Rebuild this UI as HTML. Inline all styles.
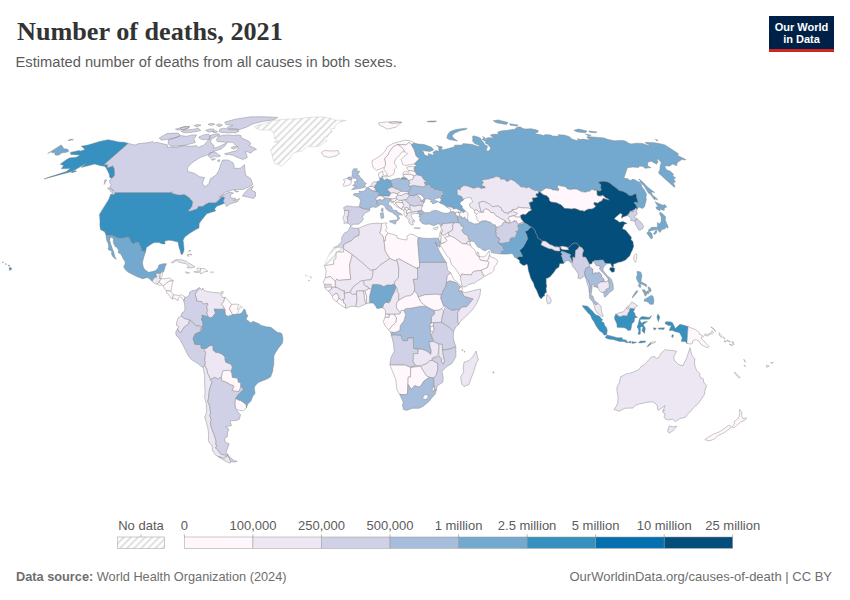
<!DOCTYPE html>
<html><head><meta charset="utf-8">
<style>
html,body{margin:0;padding:0;background:#fff;}
body{width:850px;height:600px;position:relative;overflow:hidden;font-family:"Liberation Sans",sans-serif;}
.title{position:absolute;left:17px;top:17.3px;font-family:"Liberation Serif",serif;font-weight:bold;font-size:26.2px;color:#333;letter-spacing:0px;white-space:nowrap;}
.sub{position:absolute;left:15.5px;top:53.5px;font-size:14.7px;color:#5b5b5b;white-space:nowrap;}
.logo{position:absolute;left:769px;top:16px;width:65px;height:33px;background:#002147;border-bottom:3px solid #ce261e;color:#fff;font-weight:bold;font-size:11px;line-height:12px;text-align:center;padding-top:4.5px;box-sizing:content-box;height:28.5px;}
.src{position:absolute;left:16px;top:569px;font-size:12.75px;color:#6e6e6e;white-space:nowrap;}
.url{position:absolute;right:18px;top:568.5px;font-size:13px;color:#6e6e6e;white-space:nowrap;}
svg{position:absolute;left:0;top:0;}
svg text{font-family:"Liberation Sans",sans-serif;font-size:13px;fill:#5b5b5b;}
</style></head><body>
<svg width="850" height="600" viewBox="0 0 850 600">
<defs>
<pattern id="hatch" patternUnits="userSpaceOnUse" width="5" height="5" patternTransform="rotate(-45)">
<rect width="5" height="5" fill="#fff"/><line x1="0" y1="2.5" x2="5" y2="2.5" stroke="#d6d6d6" stroke-width="1.5"/>
</pattern>
</defs>
<g stroke="#858585" stroke-width="0.45" stroke-linejoin="round">
<path fill="#d0d1e6" d="M350.3,226.5 353.1,228 358.3,228.3 359.3,231.2 359.1,235.3 354.7,237.2 352,240.3 343.7,244.7 343.7,247.6 333.6,247.6 337.5,246 341.3,241.9 341.8,240.6 341.5,237.7 344.4,233 348.2,231.2 349.6,227.8Z"/>
<path fill="url(#hatch)" stroke="#c4c4c4" d="M343.7,247.6 343.6,252 336.2,252 336,258.5 333.8,259.8 333.7,264.3 324.4,265.6 325.8,261.7 327.3,258 330.6,252 333.6,247.6Z"/>
<path fill="#fff7fb" d="M324.4,265.6 326.1,270.3 325.4,277.8 330.5,276.5 335.2,281.5 336.8,279.1 338.6,280.4 350.7,279.4 350.5,277 349.5,265 352.3,254.6 343.6,248.6 343.6,252 336.2,252 336,258.5 333.8,259.8 333.7,264.3Z"/>
<path fill="#ece7f2" d="M358.3,228.3 363.1,226.2 369.5,223.9 377.1,223.1 381.6,223.6 381.1,229.6 379.7,233 383.1,236.1 384.1,241.1 385.2,250.7 389.8,258.5 380,265.3 376.2,269.2 372.8,270 370.5,270.3 365.8,265.8 352.3,254.6 343.6,248.6 343.7,244.7 352,240.3 354.7,237.2 359.1,235.3 359.3,231.2Z"/>
<path fill="#fff7fb" d="M381.6,223.6 385,222.9 387,223.1 385.7,224.9 387.2,228 385.1,230.4 386.9,231.7 388.2,233.3 385.7,236.4 385.2,241.1 384.1,241.1 383.1,236.1 379.7,233 381.1,229.6Z"/>
<path fill="#fff7fb" d="M388.2,233.3 392,234 396.9,235.6 397.4,238.2 402.8,239.5 406.8,240 407.2,235.9 410.2,234 413.5,234.8 418.3,237.4 417.8,241.6 419.5,262.4 419.7,267.6 417.4,267.6 417.5,268.9 398.8,258.8 396.8,259.8 395.1,260.9 389.8,258.5 385.2,250.7 384.1,241.1 385.2,241.1 385.7,236.4Z"/>
<path fill="#a6bddb" d="M418.3,237.4 423.7,238.2 429,238.5 434.3,238.2 438.4,238.2 440.4,242.9 439.5,247.3 436.9,245.2 435.3,241.9 437.6,246.8 439.1,250.7 442.9,257.2 446.3,262.4 433.7,262.4 419.5,262.4 417.8,241.6Z"/>
<path fill="#d0d1e6" d="M446.3,262.4 447.7,270.3 450.8,272.9 447.3,275.5 446.5,282.5 445.7,286.7 442.7,291.9 441.4,295 436.5,294.2 425.1,294.7 418.2,297.1 417,293.7 414.4,291.1 414.6,286.7 413,279.4 417.6,278.8 417.5,268.9 417.4,267.6 419.7,267.6 419.5,262.4 433.7,262.4Z"/>
<path fill="#fff7fb" d="M441.4,295 440.7,297.9 443.7,305.9 441.4,308.8 439.1,310.1 434,310.6 426.4,306.7 421,302.3 418.2,297.1 425.1,294.7 436.5,294.2Z"/>
<path fill="#fff7fb" d="M450.8,272.9 453.7,279.4 457.2,282 461.7,286.7 460.2,287.2 456.6,283 452.2,281.5 449.6,280.9 446.5,282.5 447.3,275.5Z"/>
<path fill="#fff7fb" d="M461.7,286.7 462.5,289.3 461.5,291.1 458.9,290.8 458.6,289.5 460.2,287.2Z"/>
<path fill="#a6bddb" d="M446.5,282.5 449.6,280.9 452.2,281.5 456.6,283 460.2,287.2 458.6,289.5 458.9,290.8 461.5,291.1 464.2,296.3 473.2,298.9 466.7,306.7 462.6,307 459.8,309.3 457.5,309.6 455.2,309.9 451.8,310.4 448.1,308.3 445.5,305.9 443.7,305.9 440.7,297.9 441.4,295 442.7,291.9 445.7,286.7Z"/>
<path fill="#ece7f2" d="M461.5,291.1 465.2,292.7 473.1,290.6 480.6,289 480.3,292.7 479.8,296 477,302.8 473.2,308.8 468,314.5 462.7,319 459.9,322.1 459,324.2 457.6,322.1 457.6,312.5 459.6,309.3 462.6,307 466.7,306.7 473.2,298.9 464.2,296.3Z"/>
<path fill="#d0d1e6" d="M459,324.2 455.7,327 453.6,331.7 449.9,327.8 441.5,322.4 441.5,319.8 442.4,315.8 443.7,310.6 445.5,305.9 448.1,308.3 451.8,310.4 455.2,309.9 457.5,309.6 459.6,309.3 457.6,312.5 457.6,322.1Z"/>
<path fill="#ece7f2" d="M441.5,322.4 433.4,322.6 431.3,323.1 431.3,317.1 434.5,313.8 434,310.6 439.1,310.1 441.4,308.8 443.7,310.6 442.4,315.8 441.5,319.8Z"/>
<path fill="#d0d1e6" d="M453.6,331.7 453.3,337.5 453.9,340.6 455.8,346.8 450.2,348.9 444.4,350 442.4,349.7 442.3,344.5 438.6,344 434.8,342.2 433.2,340.1 431.2,335.4 433.1,331.5 434,328.9 433.4,326 433.4,322.6 441.5,322.4 449.9,327.8Z"/>
<path fill="#fff7fb" d="M429.9,323.4 433.4,322.6 433.4,326 429.9,327Z"/>
<path fill="#fff7fb" d="M429.9,327 433.4,326 434,328.9 433.1,331.5 430.6,331.5Z"/>
<path fill="#a6bddb" d="M391.1,335.4 393.2,335.1 401,335.4 401.7,338.8 403.3,340.9 407.7,340.6 407.9,338 413.2,338 413.5,348.4 418.1,349.2 421.3,349.2 424.9,350.2 428.1,352.1 430.8,354.4 431.3,351.5 429,341.9 433.2,341.4 431.2,335.4 430.6,331.5 429.9,327 429.9,323.4 431.3,323.1 431.3,317.1 434.5,313.8 434,310.6 426.4,306.7 421.1,306.2 415.8,307.2 410.3,308.3 405.9,308.5 403.6,310.4 405.7,314.5 403.9,321.1 400.4,325.2 399.7,330.7 398.3,331 395.5,332.3 392.5,332.3 391.4,334.6Z"/>
<path fill="#fff7fb" d="M388.6,329.9 390.7,332.5 392.5,332.3 395.5,332.3 398.3,331 399.7,330.7 400.4,325.2 403.9,321.1 405.7,314.5 403.6,310.4 401.1,310.4 399.9,313.8 396,314 393.7,314 396.5,317.9 395.8,322.4 391.9,326Z"/>
<path fill="#fff7fb" d="M388.6,329.9 385.2,326 383.3,321.6 384.5,318.4 385,317.1 389.1,317.1 389.1,314 393.7,314 396.5,317.9 395.8,322.4 391.9,326Z"/>
<path fill="#fff7fb" d="M385,317.1 385.6,314 389.1,314 389.1,317.1Z"/>
<path fill="#ece7f2" d="M385.6,314 385.2,309.9 382.6,307.8 383.3,304.9 385.6,302 388.4,302.8 390.2,301.3 391.1,298.1 392.7,294.7 394.3,291.9 395.8,287.4 395.3,285.6 397.2,288.2 397.2,291.4 398.9,294 398.7,300.2 396.4,303.6 396.5,308 400.2,312.5 399.9,313.8 396,314 393.7,314 389.1,314Z"/>
<path fill="#74a9cf" d="M369.3,303.1 370.9,303.1 373.2,303.1 375.7,306.2 376.9,308.5 379.2,308.3 382.6,307.8 383.3,304.9 385.6,302 388.4,302.8 390.2,301.3 391.1,298.1 392.7,294.7 394.3,291.9 395.8,287.4 395.3,285.6 393.5,284.1 391.2,285.1 387.5,284.8 383.7,286.4 380.9,285.1 377.2,284.3 372.4,284.6 371.3,289.3 369.5,296Z"/>
<path fill="#ece7f2" d="M372.4,284.6 377.2,284.3 380.9,285.1 383.7,286.4 387.5,284.8 391.2,285.1 393.5,284.1 395.3,285.6 394.1,282.2 398.4,278.1 398.9,267.9 396.8,259.8 395.1,260.9 389.8,258.5 380,265.3 376.2,269.2 372.8,270 372.6,275.7 371,279.6 366,279.9 363.5,280.9 364,284.6 365.3,285.9 368.1,286.9 368.5,288.7 371.3,289.3Z"/>
<path fill="#ece7f2" d="M396.8,259.8 398.8,258.8 417.5,268.9 417.6,278.8 413,279.4 414.6,286.7 414.4,291.1 412.7,294.2 409.7,295.8 405.8,296.3 398.7,300.2 398.9,294 397.2,291.4 397.2,288.2 395.3,285.6 394.1,282.2 398.4,278.1 398.9,267.9Z"/>
<path fill="#fff7fb" d="M396.5,308 396.4,303.6 398.7,300.2 405.8,296.3 409.7,295.8 412.7,294.2 414.4,291.1 417,293.7 418.2,297.1 421,302.3 426.4,306.7 421.1,306.2 415.8,307.2 410.3,308.3 405.9,308.5 403.6,310.4 401.1,310.4 400.2,312.5Z"/>
<path fill="#ece7f2" d="M335.2,281.5 336.8,279.1 338.6,280.4 350.7,279.4 350.5,277 349.5,265 352.3,254.6 365.8,265.8 370.5,270.3 372.8,270 372.6,275.7 371,279.6 366,279.9 363.5,280.9 361.9,280.4 358.5,282.8 356,284.6 353,287.2 350.9,290.8 348.8,292.4 345.6,293.2 344.2,293.2 344.2,290.3 343.3,291.1 338.8,288.7 336.9,287.4 335.1,287.4Z"/>
<path fill="#ece7f2" d="M350.9,290.8 353,287.2 356,284.6 358.5,282.8 361.9,280.4 363.5,280.9 364,284.6 365.3,285.9 368.1,286.9 368.5,288.7 365.1,291.1 363.1,290.8 356.6,291.1 356.6,294.7 354.8,294 352.3,294.5 350.4,292.7Z"/>
<path fill="#fff7fb" d="M325.4,277.8 324.2,280.7 323.1,281.5 324.6,284.8 324.8,287.4 331.7,286.9 335.1,287.4 335.2,281.5 330.5,276.5Z"/>
<path fill="#fff7fb" d="M324.8,287.4 331.7,286.9 331.7,289 328.4,291.1 326.4,289.8Z"/>
<path fill="#ece7f2" d="M328.4,291.1 329.5,292.4 332.5,296.3 334.6,294 337.3,293.7 338.5,296.3 339.1,298.1 341.4,300.2 343.5,300 344.9,297.6 344.2,293.2 344.2,290.3 343.3,291.1 338.8,288.7 336.9,287.4 335.1,287.4 331.7,286.9 331.7,289Z"/>
<path fill="#fff7fb" d="M332.5,296.3 332.5,297.9 334.3,300.2 336.6,301.8 338.7,298.9 338.5,296.3 337.3,293.7 334.6,294Z"/>
<path fill="#fff7fb" d="M336.6,301.8 341.2,305.4 345.8,308.3 345.6,304.4 343.5,302.8 343.5,300 341.4,300.2 339.1,298.1 338.7,298.9Z"/>
<path fill="#ece7f2" d="M345.8,308.3 351.5,306.2 355.9,306.5 356.6,302 357.1,298.4 356.6,294.7 354.8,294 352.3,294.5 350.4,292.7 348.8,292.4 345.6,293.2 344.2,293.2 344.9,297.6 343.5,300 343.5,302.8 345.6,304.4Z"/>
<path fill="#ece7f2" d="M355.9,306.5 358.4,307.2 363.1,305.2 365.8,303.9 364.4,298.1 364.2,293.7 363.1,290.8 356.6,291.1 356.6,294.7 357.1,298.4 356.6,302Z"/>
<path fill="#fff7fb" d="M365.8,303.9 366.7,303.6 366.7,296.3 365.1,291.1 363.1,290.8 364.2,293.7 364.4,298.1Z"/>
<path fill="#fff7fb" d="M366.7,303.6 369.3,303.1 369.5,296 371.3,289.3 368.5,288.7 365.1,291.1 366.7,296.3Z"/>
<path fill="#d0d1e6" d="M389.9,364.8 390.9,357.5 394.2,351.5 393.4,343.2 391.4,335.6 393.2,335.1 401,335.4 401.7,338.8 403.3,340.9 407.7,340.6 407.9,338 413.2,338 413.5,348.4 418.1,349.2 418,353.6 413.4,353.6 413.2,362 416,365.6 410.5,367.4 405.1,365.1 394.7,365.1ZM390.7,332.8 391.4,334.6 392.5,332.3 390.7,331.7Z"/>
<path fill="#ece7f2" d="M413.4,353.6 418,353.6 418.1,349.2 421.3,349.2 424.9,350.2 428.1,352.1 430.8,354.4 431.3,351.5 429,341.9 433.2,341.4 434.8,342.2 438.6,344 439.2,347.1 438.7,351 437.8,355.2 432,358.6 432.4,360.4 429.7,360.9 426.8,363.5 420.6,366.1 416,365.6 413.2,362Z"/>
<path fill="#ece7f2" d="M420.6,366.1 426.8,363.5 429.7,360.9 432.4,360.4 437.8,363.3 437.9,369.2 436.6,374.5 433.7,378.1 429.4,377.3 426.3,375.8 422.1,369.2Z"/>
<path fill="#ece7f2" d="M438.6,344 442.3,344.5 442.4,349.7 443.7,357 444.7,361.4 443.2,364.3 441.5,362 441.4,358.8 439,356.2 438.7,351 439.2,347.1Z"/>
<path fill="#d0d1e6" d="M455.8,346.8 455.9,356.7 451.9,363.5 446.9,366.4 441.9,371.3 443.2,377.1 442.9,382.3 437,385.9 436.5,389.8 434.5,389.6 434.5,387.2 433.8,384.9 433.7,378.1 436.6,374.5 437.9,369.2 437.8,363.3 432.4,360.4 432,358.6 439,356.2 441.4,358.8 441.5,362 443.2,364.3 444.7,361.4 443.7,357 442.4,349.7 444.4,350 450.2,348.9Z"/>
<path fill="#fff7fb" d="M389.9,364.8 394.7,365.1 405.1,365.1 410.5,367.4 416,365.6 420.6,366.1 418.3,366.6 410.8,367.4 410.5,377.1 408.2,377.1 407.5,393.7 405.3,394.8 399.7,394.3 397,390.1 395.7,379.1 392.9,372.4Z"/>
<path fill="#fff7fb" d="M410.8,367.4 418.3,366.6 420.6,366.1 422.1,369.2 426.3,375.8 429.4,377.3 423.8,381.2 420.7,386.2 418.4,387 414.6,385.7 411.3,389.6 408,384.4 408.2,377.1 410.5,377.1Z"/>
<path fill="#a6bddb" d="M399.7,394.3 405.3,394.8 407.5,393.7 408,384.4 411.3,389.6 414.6,385.7 418.4,387 420.7,386.2 423.8,381.2 429.4,377.3 433.7,378.1 433.8,384.9 434.5,389.6 436.5,389.8 435.1,394.3 431.7,397.9 429.2,401.3 423.3,406.2 418.9,408.3 412.4,408.3 406.6,410.4 403.4,409.4 403.2,408.1 402.3,404.9 403.3,402.6Z"/>
<path fill="#ece7f2" d="M476,351 478.3,359.9 476.5,362.7 475.3,366.6 473.6,371.9 471.1,378.4 468.8,384.6 464.3,386.4 461.8,384.6 461.2,381 460.6,377.1 463.7,371.9 463.2,367.7 464,362.2 469.2,360.4 472.5,357 474.7,353.6Z"/>
<path fill="#fff7fb" d="M305.5,275.2 306.4,275.2 306.1,275.7ZM307.9,276.5 308.4,276.5 308.1,276.8ZM308.7,279.9 309.4,280.7 308.7,280.9ZM310.9,276 311.1,276.5 310.7,276.5ZM310.8,277.5 311.3,278.1 310.8,278.3Z"/>
<path fill="#fff7fb" d="M492.9,371.9 494,371.9 493.7,373.2 492.8,372.9Z"/>
<path fill="#fff7fb" d="M462.1,349.4 462.8,349.4 462.7,350.8 462.3,350.8ZM464.3,351.3 465,351.3 465,352.1 464.3,352.1Z"/>
<path fill="#ece7f2" d="M344.4,210.7 344.6,213.8 342.7,218.7 344.2,220.8 343.9,223.4 347.1,222.9 347.8,220.3 347.1,216.6 348.1,216.4 348.5,213 349.2,210.7 346,210.4Z"/>
<path fill="#d0d1e6" d="M359.3,206.8 353.7,206.8 347,205.8 343.6,207.6 344.4,210.7 346,210.4 349.2,210.7 348.5,213 348.1,216.4 347.1,216.6 347.8,220.3 347.1,222.9 349.2,223.9 350.9,226 353.6,224.2 358.5,224.2 361.5,221.8 363.5,218.7 362.4,216.9 365,213 367.7,212 369.8,210.7 369.8,209.4 366.6,209.1 363.1,208.6Z"/>
<path fill="#a6bddb" d="M359.3,206.8 360.6,200.2 358.6,197.4 353.3,195.1 354,193.6 359.8,193.3 359.2,190.8 360.6,191.5 363.5,191.3 366,189.5 366.2,187.7 368,187.3 371.5,190.1 374.7,191.3 375.9,191.3 379.6,192.5 378.5,196.1 375.3,199.1 377.4,200.4 376.7,202.4 377.6,204.8 378.7,205.8 376,207.6 373.1,206.8 369.7,207.9 369.8,209.4 366.6,209.1 363.1,208.6ZM382.9,207.9 383.2,210.4 382.5,212 381.1,210.7 381.3,208.9Z"/>
<path fill="#fff7fb" d="M368,187.3 369.8,186.5 371.6,186.5 372.9,186.3 374.6,187.5 375.2,188.5 375.8,189.2 374.7,191.3 371.5,190.1Z"/>
<path fill="#ece7f2" d="M369.8,186.5 371.3,185 372.3,182.8 374,181.8 377.1,181.8 376.8,184.5 375.1,185.3 374.8,188 374.6,187.5 372.9,186.3 371.6,186.5Z"/>
<path fill="#74a9cf" d="M375.2,188.5 374.8,188 375.1,185.3 376.8,184.5 377.1,181.8 378.6,181 380,180.3 379.6,177.8 382.2,178 384.4,180 387.2,178.8 390.6,180.3 391.2,181.8 391.7,183.5 392,185 392.8,187.3 391.4,187.3 387.2,189.2 388.1,190.5 390.9,193 389.5,196.1 389.3,196.3 384.4,196.1 382.6,196.3 380.5,195.8 378.5,196.1 379.6,192.5 375.9,191.3 376.1,190.5 375.3,189.7 375.8,189.2Z"/>
<path fill="#fff7fb" d="M375.3,199.1 378.5,196.1 380.5,195.8 382.6,196.3 384.5,197.9 383.8,199.7 381.6,200.4 380.3,199.4 377.4,200.4Z"/>
<path fill="#fff7fb" d="M382.6,196.3 384.4,196.1 389.3,196.3 389.5,196.1 390.9,193 393.3,192.5 397.2,193.6 397.7,195.1 396.6,196.3 396,198.1 392.8,199.1 388.4,198.4 384.5,197.9Z"/>
<path fill="#a6bddb" d="M378.7,205.8 381.3,204.2 384.3,205.5 386.1,209.1 389,211.2 392.4,212.5 393.8,214 396.4,215.6 397.7,218.4 396.8,221 398.6,219.7 399.8,217.9 398.4,216.6 399.3,214.3 402.4,215.3 401.2,213.8 396.6,211.5 397.1,210.7 392.9,209.9 391.4,206.6 388.8,204.8 388.4,202.2 391.2,200.9 390.9,198.9 388.4,198.4 384.5,197.9 383.8,199.7 381.6,200.4 380.3,199.4 377.4,200.4 376.7,202.4 377.6,204.8ZM389.7,220.8 396.5,220 395.6,224.2 389.7,221.8ZM380.4,213 383.3,212.7 383.8,217.9 381,218.4Z"/>
<path fill="#a6bddb" d="M351.6,189.7 356.1,189 361.1,188.2 365.8,186.8 364.4,185.8 366.4,183.5 363.6,181.5 362.9,179.8 360.2,177.3 359.2,175.4 357.3,175.1 358.1,173.9 359.7,171.2 356.5,171 357.3,168.8 353.7,168.8 352.1,171.5 352.4,173.9 351.9,176.3 353.4,178.3 356.1,178.3 356.6,180 357.2,181.5 354.1,181.8 355.2,183.8 352.6,185.5 356.5,186.5 354.7,187ZM352.4,179 351.3,177 349,177 347.4,178.8 349.5,179.8 351.2,180Z"/>
<path fill="#fff7fb" d="M351.2,180 351.3,182.8 350.4,184.5 347.3,185.5 343.7,186.3 343,184.5 344.9,182 343.5,179.5 346.6,178.5 349,177 347.4,178.8 349.5,179.8Z"/>
<path fill="#fff7fb" d="M379.6,177.8 378.6,176.1 378.6,173.2 383,171 382.6,173.4 383.8,174.1 382.6,176.1 382.2,178ZM384.1,175.8 387.1,174.9 387.1,176.8 385.2,177.3ZM381.8,176.3 383.6,176.6 383.1,177.5 381.9,177.3Z"/>
<path fill="#fff7fb" d="M373.3,167.8 376.2,170.3 379,169.5 382.8,167.8 384.2,167.8 385.5,165.4 385.3,161 384.7,158.4 387.9,155.3 389.6,151.5 393.3,146.6 397.6,144.5 398.2,144.5 406.3,144.8 409.2,142.3 411.5,144.8 414.4,143 410.6,140.8 404.7,140.2 398.6,141.9 392.7,143.6 387.6,146.6 384.7,151.5 381.5,154.9 377.3,157.7 372.1,160.7 372.2,164.2ZM379.1,124.7 387.3,129.1 395.9,127.2 401.6,122.1 387.3,121.9 378.6,122.8ZM392.1,123.7 401.8,122.6 395.7,121.5 388.9,122.4Z"/>
<path fill="#fff7fb" d="M384.2,167.8 384,169.5 387.4,174.4 388,176.6 390.5,176.1 393.5,174.6 394.4,172 394.3,169.3 396.8,166.9 394.7,163.8 394.6,161.4 396.4,157.9 400,154.9 401.8,151.9 404.9,151.9 403.5,149.2 400.1,145.9 397.6,144.5 393.3,146.6 389.6,151.5 387.9,155.3 384.7,158.4 385.3,161 385.5,165.4Z"/>
<path fill="#fff7fb" d="M404.9,151.9 407.6,153.7 403.9,156.5 401.1,159.3 402.2,162.6 402.3,164.2 405.3,165.7 409,164.9 414,164.2 416.6,161.7 419.4,158.6 416.2,156 414.3,149.7 411.5,144.8 409.2,142.3 406.3,144.8 398.2,144.5 397.6,144.5 400.1,145.9 403.5,149.2Z"/>
<path fill="#fff7fb" d="M324.1,156.3 321.2,152.6 324.2,150.6 331.9,151 338,150.6 339.4,153.5 336.5,155.6 329.6,157.5Z"/>
<path fill="#a6bddb" d="M390.6,180.3 394,179.3 398.9,178 401,179 407.2,179 408.7,180.3 409.9,183.3 408.7,184.5 409.8,186.3 411,188 408.6,192.3 405.3,191.5 401.2,191.5 400.8,191.3 398.2,189.5 396,189 392.8,187.3 392,185 391.7,183.5 391.2,181.8Z"/>
<path fill="#ece7f2" d="M387.2,189.2 391.4,187.3 392.8,187.3 396,189 398.2,189.5 400.8,191.3 399.1,192.8 397.2,193.6 393.3,192.5 390.9,193 388.1,190.5Z"/>
<path fill="#fff7fb" d="M397.2,193.6 399.1,192.8 400.8,191.3 401.2,191.5 405.3,191.5 408.6,192.3 408,194.1 405.1,193.6 401.2,195.6 397.7,195.1Z"/>
<path fill="#ece7f2" d="M396,198.1 396.6,196.3 397.7,195.1 401.2,195.6 405.1,193.6 408,194.1 409.5,195.3 406.5,199.7 404.7,199.9 401.7,200.4 398.6,200.4Z"/>
<path fill="#fff7fb" d="M391.3,201.4 390.9,198.9 392.8,199.1 396,198.1 397,198.9 394.6,201.4Z"/>
<path fill="#fff7fb" d="M390.9,201.9 391.3,201.4 394.6,201.4 397,198.9 398.6,200.4 401.7,200.4 403.1,202.2 402.3,202.7 397.9,202.2 395.7,202.4 395.8,203.7 397.4,205.5 399.9,207.9 401.8,209.1 401,208.9 396.4,206.6 394.2,204.8 393,201.9 391.8,203.2Z"/>
<path fill="#fff7fb" d="M395.7,202.4 397.9,202.2 402.3,202.7 403.8,205.3 403.1,206.6 402.5,207.1 401.8,209.1 399.9,207.9 397.4,205.5 395.8,203.7Z"/>
<path fill="#ece7f2" d="M401.7,200.4 404.7,199.9 407.4,202.2 409.7,204 410.2,204.8 409.9,207.9 410.3,209.4 408.4,209.7 407.8,207.9 406.1,207.3 405.1,208.6 403.1,206.6 403.8,205.3 402.3,202.7 403.1,202.2Z"/>
<path fill="#fff7fb" d="M401.8,209.1 402.5,207.1 403.1,206.6 405.1,208.6 404.4,209.1 403.9,210.7Z"/>
<path fill="#fff7fb" d="M403.9,210.7 404.4,209.1 405.1,208.6 406.4,210.7 406.4,213 407.6,214 406.3,216.4 405.7,216.6 404.2,214.6 404.1,213Z"/>
<path fill="#fff7fb" d="M406.4,210.7 408.4,209.7 410.3,209.4 411.6,212.2 409.5,212.7 407.5,213.3 406.4,213Z"/>
<path fill="#ece7f2" d="M405.7,216.6 406.3,216.4 407.6,214 406.4,213 407.5,213.3 409.5,212.7 411.6,212.2 413.7,211.7 418,211.2 418.4,211.2 418.1,213.5 415.9,213.3 413.2,213.8 411.4,214.3 411.1,215.8 412.2,218.2 414.5,220.3 413.9,221 414.6,221.8 412.6,220.8 413,222.6 413.2,224.9 411.7,224.9 409.9,223.9 408.4,221.6 409.5,220 407.5,218.7 406.1,217.1ZM414.1,227.8 420.2,227.8 419.8,228.6 415.2,228.3Z"/>
<path fill="#ece7f2" d="M410.2,204.8 414.1,206.1 417.1,205.5 419.8,205 422.6,206.1 421.4,208.1 421.9,210.4 419,210.7 418,211.2 413.7,211.7 411.6,212.2 410.3,209.4 409.9,207.9Z"/>
<path fill="#d0d1e6" d="M404.7,199.9 406.5,199.7 409.5,195.3 413.7,195.8 416.9,194.3 420.6,198.6 421.2,201.4 424.4,202.2 422.8,204.5 422.6,206.1 419.8,205 417.1,205.5 414.1,206.1 410.2,204.8 409.7,204 407.4,202.2Z"/>
<path fill="#fff7fb" d="M416.9,194.3 418.7,193.8 422.3,195.3 424.7,199.1 422.4,200.2 421.2,201.4 420.6,198.6Z"/>
<path fill="#a6bddb" d="M408.6,192.3 411,188 409.8,186.3 413.4,185.3 417.4,186 423.5,186.8 425.7,184.8 429.5,184.3 431,185.5 430.9,186.8 433.4,187.5 433.6,188.5 436.2,189.5 437.7,189 439.2,190.2 443.5,191 443.7,191.8 443.2,193 443.9,194.6 443.6,195.3 441.9,195.6 441,197.4 435.5,198.6 434.3,199.9 438.5,201.7 435.8,202.7 432.7,204 432.2,202.2 430.1,201.7 432.1,200.2 428,198.9 425.9,198.6 424.3,201.9 421.2,201.4 422.4,200.2 424.7,199.1 422.3,195.3 418.7,193.8 416.9,194.3 413.7,195.8 409.5,195.3 408,194.1Z"/>
<path fill="#ece7f2" d="M409.8,186.3 413.4,185.3 417.4,186 423.5,186.8 425.7,184.8 424.8,183.3 424.2,182.3 426.2,182.3 426.8,181.5 424.6,180 422.5,178 422.7,177.3 422.3,176.1 420.2,175.6 416.8,174.6 414,175.8 412.6,179.3 408.7,180.3 409.9,183.3 408.7,184.5Z"/>
<path fill="#fff7fb" d="M403.4,175.8 403.1,174.9 405.3,174.1 410.4,174.1 414,175.8 412.6,179.3 408.7,180.3 407.2,179 404,177Z"/>
<path fill="#fff7fb" d="M403.1,174.9 403,172.7 405.6,171 408.6,172.4 408.9,170.5 411.1,170.5 414.6,171.2 416.8,174.6 414,175.8 410.4,174.1 405.3,174.1Z"/>
<path fill="#fff7fb" d="M406.7,167.4 408.9,166.6 414.9,166.6 414.1,168.3 414.6,170.3 414.6,171.2 411.1,170.5 408.9,170.5 406.9,168.8Z"/>
<path fill="#a6bddb" d="M418.4,211.2 421.9,210.4 424.3,212.2 419.7,214.6 418.1,213.5ZM424.3,212.7 429.4,212.5 433.5,210.4 437.1,210.4 440.9,212.2 444.3,213.3 448.5,213 450.6,211.7 453.2,211.5 455.2,212.7 455.9,215.3 458.4,216.4 457.1,217.1 458.2,220 457.9,220.9 459.5,222.9 458.4,222.9 455.2,222.6 454.1,222.9 450.7,223.1 445.4,223.6 442.2,223.9 442.2,225.5 440.6,226.5 440.8,224.4 437.7,223.9 434,225.7 429.1,223.9 425.7,224.4 422.3,223.4 419.6,220.3 420.2,216.9 418.9,216.9 419.7,214.6 424.4,213.3Z"/>
<path fill="#fff7fb" d="M433.3,228.3 438.1,226.7 437.1,229.3 433.8,229.3Z"/>
<path fill="#74a9cf" d="M414.2,143 418.2,144.1 424.2,144.5 431.5,147.2 433.7,149.7 432.2,150.8 429.6,151.5 424.2,150.8 420.2,150.1 423.4,151.7 424.6,155.1 428.6,156.3 428.2,153.5 432.8,154.9 434,154.2 432.8,152.6 435.6,150.4 439.1,151.2 438.3,146.3 436.2,145.7 441.4,146.6 442.7,147.7 440.7,147.9 442.7,149.9 454.1,147 454.6,145.2 462.1,145 463.1,143.6 471.6,144.3 479.1,146.8 479.6,145.7 477.3,144.5 474.6,143.6 472.6,141.1 472.8,139.8 472.6,136.6 473.1,135.8 477.2,136.8 480.4,137.9 481.4,140.2 483.1,141.7 484.8,144.8 487.5,146.1 486.3,150.8 488.3,151 490,149.7 490.5,147.4 489,146.3 488.6,144.8 485.6,143.4 485.5,141.3 482.1,139.6 483.9,138.1 482.5,136.6 484.9,137.7 485.8,139.8 487.8,140 485.9,138.5 488,137.7 491.3,137.7 495.1,138.7 492.3,137.1 490.4,135 492.8,134.3 499.9,134.3 497.5,133.1 498.3,131.8 502,130.8 505.6,130.5 509.5,129.9 513.3,129.3 516.2,129.3 515.3,128.3 518.4,126.8 521.7,127.4 520.4,128 525.7,129.1 531.1,128.7 535.8,129.7 538.1,130.5 538.2,132 535.4,133.1 534.8,133.7 540,134.5 543.4,135.6 545.5,134.5 551,135 552.6,136 559.6,136.3 557.9,134.7 564,135 568.2,136.2 570.6,137.5 570.7,138.4 574.8,140 578.5,140.8 577.4,138.7 581.1,139.6 583,139 587.3,139.8 590.6,139.4 586.7,137.5 587.7,136.6 604,137.9 607.3,139.2 614.1,140.8 620,140.4 623.6,140.6 626.3,141.5 628.7,143.2 631.6,143.9 636,143.2 642.5,143.4 648.4,145.4 649.4,144.8 645.8,143.2 645.3,142.3 654.7,142.8 661.2,143.9 665,144.9 678.5,153.7 677.8,154.9 675.2,154.6 678.4,155.8 682.1,157.7 685.4,159.3 685.8,160 681.9,159.6 679.1,161.2 677.2,163.1 676.6,164.7 677.1,165.7 672.4,164 670,165.9 667.7,166.1 664.6,165.7 666.4,169.8 670.3,171.2 673.9,174.6 672.3,174.9 673.7,176.8 675.6,177.8 673.7,179.3 675.6,182 673.2,182.5 674.8,186.3 674.6,187.5 658.7,173.2 658.8,171.7 659.9,170 660.1,167.1 660.5,164.7 661.4,162.8 658.4,159.3 656.6,159.6 658.1,161.7 656.6,164.2 651.4,161.2 647.8,162.1 647.7,165.9 651,167.6 647.4,168.1 644.8,168.3 643.1,166.6 639.8,166.1 638.6,167.4 632.8,167.1 627.4,167.8 625.8,172.4 623.9,178.3 627.2,178.5 629.5,180.1 631.8,180.5 631.9,179.3 634.2,179.5 639.3,182.3 641.4,184.5 642,187 644.4,190 646.5,194.1 646,197.6 646.4,199.4 644.5,206.8 642.5,208.4 640.9,207.9 639.2,207.1 637.4,208.9 637,209.4 636.3,208.1 637.3,208.1 635.9,205 633.9,202.7 635.2,201.9 638.1,202.4 636.5,197.1 636.6,196.1 636,193.8 633.3,194.6 632.2,195.6 629.1,195.6 626.8,193.3 623.2,191.5 619.1,190.5 616.6,188.2 612.1,185 609.8,183 607.5,182 604,181.3 601.4,181.5 599.3,181.8 598.6,183 600.1,183.8 601.1,185.1 600.8,186 600.8,188.5 601.7,189.7 599.9,191.3 596.9,190.2 594.6,190.5 593.1,189.7 591.8,189.5 589.8,191.3 587.4,191.5 586,192.3 583.1,191.8 581.3,191.8 579.4,190.5 576.6,189.2 574.4,189 572,189.2 570.5,189.7 567.1,188.7 565.5,186.8 562.8,186.3 560.8,186 558.1,185 557.4,187.5 559.1,189 558.2,190.8 554.9,190 552.9,190 550.7,188.7 548.8,188.7 546.5,188 544.2,189.2 541.4,191.3 539.6,191.8 539,192 537.1,190.5 534.6,190.8 533.3,189.7 531.7,189.2 529.9,187.7 528.6,187.3 526,188 522.7,186.5 522.1,187.7 514.8,181.5 511.3,179.5 511.8,178.8 508.1,181.3 506.1,181.3 505.8,180 502.8,179 501.2,179.8 499.4,177 495.7,176.6 494.4,177.5 490,178.5 489.2,179 482.3,180 481.7,180.8 483.8,182.5 482.1,183.3 482.8,184 481.4,185 485.2,186.8 485,188 482.3,188 481.9,188.7 478.8,187.3 475.9,187.5 474.1,188.5 471.3,187.5 466.4,185.8 463.5,185.8 460.1,188.5 460.4,190.2 457.8,188.7 457.1,191.5 457.6,192 457.1,194.1 459.2,195.8 460.8,195.8 462.4,197.4 462.5,198.6 463.7,199.1 463,200.7 461.3,201.2 459.8,203.7 462.2,206.1 462.4,207.9 465.4,210.9 464,212.5 463.2,212.5 461.4,210.9 460.7,210.7 459.3,210.2 456.3,208.6 453.4,208.9 451.6,207.3 448.4,206.8 446.4,206.8 443.4,204.5 440.7,203.5 438.8,202.2 440.2,201.7 441.4,199.7 440.2,198.6 442.9,197.6 442.7,196.9 441,197.4 441.9,195.6 443.6,195.3 443.9,194.6 443.2,193 443.7,191.8 443.5,191 439.2,190.2 437.7,189 436.2,189.5 433.6,188.5 433.4,187.5 430.9,186.8 431,185.5 429.5,184.3 425.7,184.8 424.8,183.3 424.2,182.3 426.2,182.3 426.8,181.5 424.6,180 422.5,178 422.7,177.3 422.3,176.1 420.2,175.6 416.8,174.6 416,173.2 415.6,172.2 414.6,171.2 414.6,170.3 414.1,168.3 414.9,166.6 416.7,165.4 414.6,164.2 414,164.2 416.6,161.7 419.4,158.6 416.2,156 414.3,149.7 411.5,144.8 412.2,144.3 414.2,143ZM649,188.2 654.7,192.5 651.1,191.8 652.5,195.3 656.4,198.1 657.7,199.9 654.9,198.4 655,200.2 653.1,198.1 651,195.1 648.2,192.8 646.4,189.7 643.5,185.3 639.7,181.8 640.3,180.5 638.7,179.5 639.2,179 644.1,183.3 645.9,185.5ZM467.1,128.2 461.4,128.7 455.8,129.6 450.1,131.5 447.8,134.4 446.8,138.1 449.2,139.5 454.8,140.5 457.6,140.9 453.9,138.6 452,135.8 454.8,132.9 460.5,130.6 466.1,129.5ZM493.2,120.8 498.1,119.9 508,122.5 506.4,124.5 496.5,122.8ZM509.7,123.7 517.9,125 517.1,126.1 510.5,125.3ZM573.9,130.2 578.8,129.1 587.1,131.1 585.4,132.7 577.2,131.9ZM588.7,131.1 597,131.9 595.3,132.7 589.6,132.2ZM585.4,134 591.2,135.2 588.7,136ZM426.9,121.5 430.9,121 436.6,121.1 434.4,121.9 428.7,121.9ZM401,179 407.2,179 404,177 401.6,177.8ZM61.1,144.9 62.6,146.6 63.8,148.8 66.7,149 68,149.5 68.5,151.5 65.1,152.6 62,152.8 59,154.9 56.1,155.3 54.3,153.9 55.6,152.8 54.2,152.6 51.7,152.8 51.9,152.1 53.6,151.2 50.8,151.7 47.6,153.7ZM656.6,140.8 655.4,139.2 658.1,140.6ZM70.7,139.2 73.5,139.8 68,140.6Z"/>
<path fill="#ece7f2" d="M539,192 537.1,190.5 534.6,190.8 533.3,189.7 531.7,189.2 529.9,187.7 528.6,187.3 526,188 522.7,186.5 522.1,187.7 514.8,181.5 511.3,179.5 511.8,178.8 508.1,181.3 506.1,181.3 505.8,180 502.8,179 501.2,179.8 499.4,177 495.7,176.6 494.4,177.5 490,178.5 489.2,179 482.3,180 481.7,180.8 483.8,182.5 482.1,183.3 482.8,184 481.4,185 485.2,186.8 485,188 482.3,188 481.9,188.7 478.8,187.3 475.9,187.5 474.1,188.5 471.3,187.5 466.4,185.8 463.5,185.8 460.1,188.5 460.4,190.2 457.8,188.7 457.1,191.5 457.6,192 457.1,194.1 459.2,195.8 460.8,195.8 462.4,197.4 462.5,198.6 463.7,199.1 467.6,197.6 471.3,197.9 471.9,200.2 472.8,201.9 469.4,204 470.3,207.6 472.9,208.4 473.6,209.4 474.3,210.7 476.6,209.7 479.1,212.2 481.2,212.2 478.8,202.7 483.5,201.2 489.6,204.2 492.3,206.6 498.2,206.1 501.3,207.9 501.8,210.4 502.9,210.5 503.9,212.5 506.8,213 508.3,213.8 508.8,212 511.5,211.7 512.1,209.7 517.2,209.1 517.9,207.1 522,207.9 528.5,208.1 531.6,209.7 530.9,208.9 530,205.3 529.1,202.7 533.1,201.4 532.4,197.9 534.6,197.9 537.8,197.1 536,195.3 536.3,193.8 538.1,193.8 539,192Z"/>
<path fill="#fff7fb" d="M596.9,190.2 597.2,194.8 598.2,195.8 601.4,195.8 602.6,195.1 606.1,198.1 607.9,198.4 609.4,200.2 603.2,198.4 601.8,200.9 599.3,201.9 598,203.2 594.3,202.4 593.8,204 595.8,206.3 594,208.1 592,209.1 588.9,209.1 586,210.2 584.1,211.5 582.9,210.7 580.4,210.7 576.5,209.1 574.2,208.6 571.7,209.1 567.3,208.6 564.7,208.6 561,204.8 559.5,204.2 556.4,202.8 550.7,201.9 549.2,200.2 548.9,197.9 546.6,195.8 543.3,194.8 539.6,191.8 541.4,191.3 544.2,189.2 546.5,188 548.8,188.7 550.7,188.7 552.9,190 554.9,190 558.2,190.8 559.1,189 557.4,187.5 558.1,185 560.8,186 562.8,186.3 565.5,186.8 567.1,188.7 570.5,189.7 572,189.2 574.4,189 576.6,189.2 579.4,190.5 581.3,191.8 583.1,191.8 586,192.3 587.4,191.5 589.8,191.3 591.8,189.5 593.1,189.7 594.6,190.5 596.9,190.2Z"/>
<path fill="#034e7b" d="M539.6,191.8 539,192 538.1,193.8 536.3,193.8 536,195.3 537.8,197.1 534.6,197.9 532.4,197.9 533.1,201.4 529.1,202.7 530,205.3 530.9,208.9 531.6,209.7 531.2,210.2 528.5,211.5 527.3,213 525.3,214.6 523,214 521.7,214.6 520,215.8 520.5,216.4 520.2,217.1 521.5,219.5 524.3,222.9 526.6,223.9 529.6,226.2 531.9,227.3 535.1,230.4 535.4,232.5 536.9,235.1 537.6,237.9 542.5,241.1 545.3,241.3 547.8,242.9 550.1,244.7 552,245.2 554.5,246.8 559.3,247.1 560.5,246.5 562.7,246.3 567.3,247.3 568.4,248.1 570.7,245.2 573,243.4 576.2,242.9 579.5,246 580,247.1 581.9,247.6 583.6,250.2 582.3,254.4 582.8,257.2 585.4,257 587.3,260.1 589.3,264 591.8,264 592.7,261.4 593.4,261.4 594.6,260.6 596.4,260.6 598.6,260.4 601.4,259.9 603.6,260.4 604.7,263 607.2,263.6 610.7,263.5 611.9,266.6 613.5,266.9 613.5,264 615.6,263.5 618.5,262.2 620.8,261.9 625.6,260.1 627.1,258.3 629.7,255.9 631,252.8 632.2,250.5 633.7,246.3 633.2,243.7 633,241.6 631,239.8 631.4,237.2 625.5,230.1 622.4,228.8 623.4,226.2 624.4,224.2 627.2,223.6 623.2,221.6 618.9,222.3 618.3,221 614.4,219 615.1,217.7 619.5,214 620.3,213.3 622.3,214.6 621.5,216.4 621.8,218.4 622.9,217.1 627.3,215.6 629.7,212.7 630.2,210.9 633.4,211.7 632.3,210.5 635,209.4 635.4,208.1 637,209.4 636.3,208.1 637.3,208.1 635.9,205 633.9,202.7 635.2,201.9 638.1,202.4 636.5,197.1 636.6,196.1 636,193.8 633.3,194.6 632.2,195.6 629.1,195.6 626.8,193.3 623.2,191.5 619.1,190.5 616.6,188.2 612.1,185 609.8,183 607.5,182 604,181.3 601.4,181.5 599.3,181.8 598.6,183 600.1,183.8 601.1,185.1 600.8,186 600.8,188.5 601.7,189.7 599.9,191.3 596.9,190.2 597.2,194.8 598.2,195.8 601.4,195.8 602.6,195.1 606.1,198.1 607.9,198.4 609.4,200.2 603.2,198.4 601.8,200.9 599.3,201.9 598,203.2 594.3,202.4 593.8,204 595.8,206.3 594,208.1 592,209.1 588.9,209.1 586,210.2 584.1,211.5 582.9,210.7 580.4,210.7 576.5,209.1 574.2,208.6 571.7,209.1 567.3,208.6 564.7,208.6 561,204.8 559.5,204.2 556.4,202.8 550.7,201.9 549.2,200.2 548.9,197.9 546.6,195.8 543.3,194.8 539.6,191.8ZM609.4,269.2 611.9,272.3 614.3,271.8 614.7,268.4 613.6,267.4 610.5,267.6Z"/>
<path fill="#d0d1e6" d="M627.3,215.6 630,217.1 631,219 630.5,220.5 635.1,221.3 635.4,220 637.6,219.2 635,217.4 634.4,216.1 636.2,215.1 637.4,213.3 636.4,211.5 637,209.4 635.4,208.1 635,209.4 632.3,210.5 633.4,211.7 630.2,210.9 629.7,212.7Z"/>
<path fill="#d0d1e6" d="M635.1,221.3 635.4,224.2 638.8,230.1 640.6,229.9 642.7,228.6 643.6,226.7 642.4,223.9 641,222.3 637.6,219.2 635.4,220Z"/>
<path fill="#74a9cf" d="M660.9,212.5 663.1,214.3 665.7,216.9 665.2,220 666.7,223.4 667.9,226 668,228.3 666.3,227 665.5,228 664.5,229.1 661.4,229.6 661.3,230.4 660,232.5 657.3,229.6 653.6,230.1 649,231.2 648.5,229.9 651.7,227.3 657.5,227.3 657.3,222.6 659.5,223.9 661.3,221.3 661.2,216.9 659.6,213.8 659.8,212.5ZM660.1,210.9 656.6,209.1 655.9,207.1 658.1,206.8 655.1,201.7 659.2,203.7 663.1,205.3 664.7,204.5 666.8,207.1 664.3,208.1 664.2,210.4 659.8,208.9ZM647.3,232.5 648.8,231.2 651.9,233.5 652.6,237.9 651.2,239 649.3,236.4 646.8,233.3ZM653.5,233.8 655.7,230.4 656.9,230.7 656.5,233 654.7,234.6Z"/>
<path fill="#034e7b" d="M516.5,258 519.3,256.4 522.6,256.2 520.8,252.8 519.5,250.5 523.2,247.1 525.9,241.9 527.5,239 526.8,235.1 526.2,234.3 524.9,231.4 528.2,229.9 530.1,227.3 531.9,227.3 535.1,230.4 535.4,232.5 536.9,235.1 537.6,237.9 542.5,241.1 541,244.7 545.5,247.1 548.9,248.6 552.1,248.9 554.8,250.5 558.1,251 560.1,251 559.3,247.1 560.5,246.5 561.3,249.1 564.9,249.7 568.7,249.7 567.3,247.3 568.4,248.1 570.7,245.2 573,243.4 576.2,242.9 579.5,246 578.1,248.6 575.6,250.5 575.3,254.1 575,257.7 572.8,257 572.9,260.6 572.3,262.4 570.7,258 569.9,256.7 570.5,254.6 564.1,252 561.9,251.2 560.8,252.5 562.5,254.1 561,255.9 562,256.4 562.9,260.1 564,262.7 563.9,263.5 559.6,263.7 559,267.1 556,268.9 554.1,272.1 550.3,276.5 549.3,277.3 547.3,278.3 546.2,278.3 546.2,283.8 546.8,285.9 546.1,288.2 546.5,292.7 545.1,292.9 544.3,295 545,295.8 543,296.6 541.2,298.9 539.1,296.6 537.7,292.9 536.6,290.3 535.9,289 534.5,286.7 533.6,283.3 532.1,280.7 530.7,278.1 529.2,273.1 528.2,269.7 527.9,266.6 527.1,264 524.1,265.6 522.5,265 519.2,262.2 520,261.1 519.5,260.4Z"/>
<path fill="#ece7f2" d="M546.9,302 546.3,298.4 547,294.2 549.9,297.3 551.2,300.2 550.9,302.8 547.9,304.1Z"/>
<path fill="#74a9cf" d="M501.3,254.1 507.8,254.1 511.9,253.6 513.5,255.1 514.7,257.5 516.5,258 519.3,256.4 522.6,256.2 520.8,252.8 519.5,250.5 523.2,247.1 525.9,241.9 527.5,239 526.8,235.1 526.2,234.3 524.9,231.4 528.2,229.9 530.1,227.3 529.6,226.2 526.6,223.9 524.3,222.9 523.8,223.4 520.4,224.2 518.2,224.7 517.6,226.5 518.6,228 517.8,231.2 515.6,231.2 516.8,232.7 515.5,236.6 514.8,237.4 512.3,237.4 510.5,238.2 509.7,239.8 509.9,241.9 505.8,242.6 501.7,243.4 498,242.1 500.4,245 502.6,246 503.1,248.4 504.1,248.9 504.5,249.9 501.6,251.5Z"/>
<path fill="#ece7f2" d="M541,244.7 542.5,241.1 545.3,241.3 547.8,242.9 550.1,244.7 552,245.2 554.5,246.8 559.3,247.1 560.1,251 558.1,251 554.8,250.5 552.1,248.9 548.9,248.6 545.5,247.1Z"/>
<path fill="#fff7fb" d="M561.3,249.1 560.5,246.5 562.7,246.3 567.3,247.3 568.7,249.7 564.9,249.7Z"/>
<path fill="#a6bddb" d="M561.9,251.2 564.1,252 570.5,254.6 569.9,256.7 570.7,258 572.3,262.4 570.9,263.2 570.1,261.4 567,260.4 564,262.7 562.9,260.1 562,256.4 561,255.9 562.5,254.1 560.8,252.5Z"/>
<path fill="#d0d1e6" d="M498,242.1 501.7,243.4 505.8,242.6 509.9,241.9 509.7,239.8 510.5,238.2 512.3,237.4 514.8,237.4 515.5,236.6 516.8,232.7 515.6,231.2 517.8,231.2 518.6,228 517.6,226.5 518.2,224.7 520.4,224.2 523.8,223.4 524.3,222.9 522,222.3 518,224.2 516.3,221 514,220.5 514.1,221.6 512.4,221.8 510.3,222.9 509.1,223.1 506.1,222.3 504.2,221.6 502.7,223.1 502.1,225.2 499.5,226.2 498.2,227 495.7,226.7 496,230.1 495.3,232 496.2,232.5 495.6,234 497.2,237.7 499,237.9 499.6,239.8Z"/>
<path fill="#a6bddb" d="M458.4,216.4 460.6,216.9 462.4,218.4 464.7,216.9 465.7,218.7 467.8,220 468.8,221.8 470.8,222.3 474.2,223.9 479.1,223.6 479.3,222.6 482.1,220.8 486,220.8 490.4,222.3 493.5,224.7 495.3,224.7 495.7,226.7 496,230.1 495.3,232 496.2,232.5 495.6,234 497.2,237.7 499,237.9 499.6,239.8 498,242.1 500.4,245 502.6,246 503.1,248.4 504.1,248.9 504.5,249.9 501.6,251.5 501.3,254.1 496.7,253.6 494.2,253.1 491.7,252.8 490.3,249.5 489.2,249.1 487.4,249.5 485.3,250.7 482.6,249.9 480.1,247.8 477.8,247.1 476.1,244.7 474,241.3 472.9,241.6 471.2,240.8 470.7,241.9 469.2,240.3 469,239 468.3,239 468.3,237.2 466.9,235.1 464,233.8 462.1,231.2 462.3,229.3 463.5,228.3 463,226.7 461.3,226 459.5,222.9 457.9,220.9 458.2,220 457.1,217.1Z"/>
<path fill="#ece7f2" d="M459.5,222.9 461.3,226 463,226.7 463.5,228.3 462.3,229.3 462.1,231.2 464,233.8 466.9,235.1 468.3,237.2 468.3,239 469,239 469.2,240.3 470.7,241.9 469.3,241.6 467.8,241.4 466.5,243.9 462.3,243.7 455.4,238.5 451.9,236.6 449.2,235.9 447.9,232.7 452.4,230.1 452.8,227 452.3,224.9 453.3,224.4 454.1,222.9 455.2,222.6 458.4,222.9Z"/>
<path fill="#ece7f2" d="M441,227.5 441.5,229.6 442.9,230.7 441.9,231.7 441.4,233 441.6,234.6 443.9,235.6 447.9,232.7 452.4,230.1 452.8,227 452.3,224.9 453.3,224.4 454.1,222.9 450.7,223.1 445.4,223.6 442.2,223.9 442.2,225.5 440.6,226.5Z"/>
<path fill="#fff7fb" d="M439.9,233.5 440.5,231.2 441.5,229.6 442.9,230.7 441.9,231.7 441.4,233Z"/>
<path fill="#fff7fb" d="M438.4,238.2 439.2,236.9 439.9,233.5 441.4,233 441.6,234.6 441,235.3 441.2,237.7 440.4,242.9Z"/>
<path fill="#fff7fb" d="M440.7,243.2 441.2,237.7 441,235.3 441.6,234.6 443.9,235.6 447.9,232.7 449.2,235.9 444.6,237.7 447.1,240.3 446.1,241.6 444,242.9Z"/>
<path fill="#fff7fb" d="M440.6,244.2 444,242.9 446.1,241.6 447.1,240.3 444.6,237.7 449.2,235.9 451.9,236.6 455.4,238.5 462.3,243.7 466.5,243.9 468.5,244.2 470.7,245.5 471.8,247.6 473,248.1 475,250.2 475.4,251.5 476.6,254.6 477.1,255.4 479,256.4 480.2,259.8 487.1,261.1 487.5,260.6 488.8,262.4 487.7,267.6 481.1,270.3 474.6,271.3 472.6,272.3 471.2,275.2 469.3,274.7 466.4,274.7 463.2,274.4 461.8,273.9 461.2,275.2 460.6,277 460.1,276 456.6,270.3 454.1,267.1 451.4,264.3 449.7,258 447.3,256.4 444.5,252 441.2,246.5 440.1,246.5Z"/>
<path fill="#ece7f2" d="M460.5,278.8 460.6,277 461.2,275.2 461.8,273.9 463.2,274.4 466.4,274.7 469.3,274.7 471.2,275.2 472.6,272.3 474.6,271.3 481.1,270.3 484,276.2 482.1,278.3 476.4,281.5 474.4,283.3 472.6,283.3 467.4,285.1 466.1,286.7 462.7,286.9 461.9,285.4 461.1,281.2Z"/>
<path fill="#fff7fb" d="M481.1,270.3 487.7,267.6 488.8,262.4 487.5,260.6 489.7,254.9 490.7,256.7 492.2,257.5 495.2,258.3 497.9,261.1 496.2,264.8 494,267.1 494,270.3 491.5,272.9 488.8,273.9 486,275.7 484,276.2Z"/>
<path fill="#fff7fb" d="M479,256.4 481.3,256.7 484.5,257 487.3,253.6 489.2,251 489.7,254.9 487.5,260.6 487.1,261.1 480.2,259.8Z"/>
<path fill="#fff7fb" d="M477.1,255.4 477.2,251.8 478.6,252.5 479,256.4Z"/>
<path fill="#fff7fb" d="M466.5,243.9 467.8,241.4 469.3,241.6 470.7,245.5 468.5,244.2Z"/>
<path fill="#fff7fb" d="M446.4,206.8 448.4,206.8 451.6,207.3 453.4,208.9 456.3,208.6 459.3,210.2 460.7,210.7 461.3,212.7 458,212.2 455.2,212.7 453.2,211.5 450.6,211.7 450.4,208.9Z"/>
<path fill="#fff7fb" d="M455.2,212.7 458,212.2 459.5,213.3 459.4,215.6 462.1,216.9 462.4,218.4 460.6,216.9 458.4,216.4 455.9,215.3Z"/>
<path fill="#fff7fb" d="M458,212.2 461.3,212.7 460.7,210.7 461.4,210.9 463.2,212.5 464,212.5 465.4,210.9 466.7,212.2 468.2,214 467.8,216.6 467.8,220 465.7,218.7 464.7,216.9 462.4,218.4 462.1,216.9 459.4,215.6 459.5,213.3Z"/>
<path fill="#fff7fb" d="M474.3,210.7 474.8,213.3 477.4,213.5 475.7,215.6 476.9,217.4 476.5,218.2 479.3,222.6 482.1,220.8 486,220.8 490.4,222.3 493.5,224.7 495.3,224.7 495.7,226.7 498.2,227 499.5,226.2 502.1,225.2 502.7,223.1 504.2,221.6 506.1,222.3 505.7,220.8 500.2,218.2 498.4,217.1 495.6,215.3 493.9,212.7 490.8,212.5 489.4,210.4 485.7,208.4 484.5,209.9 482.8,210.9 483.6,212.2 481.2,212.2 479.1,212.2 476.6,209.7Z"/>
<path fill="#ece7f2" d="M481.2,212.2 483.6,212.2 482.8,210.9 484.5,209.9 485.7,208.4 489.4,210.4 490.8,212.5 493.9,212.7 495.6,215.3 498.4,217.1 500.2,218.2 505.7,220.8 506.1,222.3 509.1,223.1 509.7,220.3 507.9,218.2 509,216.9 513.2,215.8 515.6,215.3 517.7,213.3 514.7,212 512.1,209.7 511.5,211.7 508.8,212 508.3,213.8 506.8,213 503.9,212.5 502.9,210.5 501.8,210.4 501.3,207.9 498.2,206.1 492.3,206.6 489.6,204.2 483.5,201.2 478.8,202.7Z"/>
<path fill="#fff7fb" d="M512.1,209.7 517.2,209.1 517.9,207.1 522,207.9 528.5,208.1 531.6,209.7 531.2,210.2 528.5,211.5 527.3,213 525.3,214.6 523,214 521.7,214.6 520,215.8 520.5,216.4 520.2,217.1 516.6,217.1 513.2,215.8 515.6,215.3 517.7,213.3 514.7,212Z"/>
<path fill="#fff7fb" d="M509.7,220.3 510.3,222.9 512.4,221.8 514.1,221.6 514,220.5 516.3,221 518,224.2 522,222.3 524.3,222.9 521.5,219.5 520.2,217.1 516.6,217.1 513.2,215.8 509,216.9 507.9,218.2Z"/>
<path fill="#d0d1e6" d="M572.1,265.8 572.3,262.4 572.9,260.6 572.8,257 575,257.7 575.3,254.1 575.6,250.5 578.1,248.6 579.5,246 580,247.1 581.9,247.6 583.6,250.2 582.3,254.4 582.8,257.2 585.4,257 587.3,260.1 589.3,264 589.7,266.6 587.4,267.6 585.7,268.4 585.2,271.3 584.3,271.8 585.8,277.8 587.9,279.9 589.1,282.8 590,285.1 590.1,288.5 589.4,292.7 588.6,287.2 587.4,284.3 585.6,277.8 584.4,275.7 583,277 580.7,278.8 579.3,278.6 577.9,278.1 578.3,274.7 577.3,272.3 575.1,269.2 575.5,268.4 574,267.9Z"/>
<path fill="#a6bddb" d="M589.7,266.6 590.7,267.4 592.8,268.9 593,274.2 595.1,272.6 597.2,272.9 599.1,272.1 601.3,274.4 601.9,277 604,279.1 604.1,281.7 600,282.2 597.1,284.8 598.1,288 595.9,286.9 593.9,286.9 594.1,284.8 592.1,284.8 592.1,287.7 591,295.8 592.6,295.8 593.6,298.1 594.2,300.5 596.9,302.3 598.1,303.6 595.9,304.9 593.9,302.6 593.4,302.8 589.5,297.9 589.4,292.7 590.1,288.5 590,285.1 589.1,282.8 587.9,279.9 585.8,277.8 584.3,271.8 585.2,271.3 585.7,268.4 587.4,267.6Z"/>
<path fill="#fff7fb" d="M591.8,264 592.7,261.4 593.4,261.4 595,263.2 596.5,265.6 599.3,265.6 600.6,267.9 599.3,268.7 601.7,271 605.7,275.5 608,278.3 608.7,280.2 606.4,281.7 604.1,281.7 604,279.1 601.9,277 601.3,274.4 599.1,272.1 597.2,272.9 595.1,272.6 593,274.2 592.8,268.9 590.7,267.4 589.7,266.6 589.3,264Z"/>
<path fill="#a6bddb" d="M593.4,261.4 594.6,260.6 596.4,260.6 598.6,260.4 601.4,259.9 603.6,260.4 604.7,263 607.2,263.6 604.5,265.8 603.1,268.2 602.9,270.3 604.9,272.9 607.7,276.2 610,277.8 611.7,279.9 613.1,284.8 613.4,289.3 611.7,291.1 609.1,292.7 607.5,295 604.8,297.3 603.8,295.8 604.4,294 602.4,292.4 604.4,291.4 606.7,291.1 605.6,289.5 609.3,287.7 609.2,284.6 608.6,282.8 608.7,280.2 608,278.3 605.7,275.5 601.7,271 599.3,268.7 600.6,267.9 599.3,265.6 596.5,265.6 595,263.2Z"/>
<path fill="#ece7f2" d="M598.1,288 597.1,284.8 600,282.2 604.1,281.7 606.4,281.7 608.7,280.2 608.6,282.8 609.2,284.6 609.3,287.7 605.6,289.5 606.7,291.1 604.4,291.4 602.4,292.4 600.6,292.1 599.5,290.6Z"/>
<path fill="#ece7f2" d="M593.4,302.8 595.9,304.9 598.1,303.6 600.3,305.4 601.3,307 601.3,310.1 601.9,312.7 603.3,316.1 601.7,316.4 599.6,314.5 596.8,312.5 595.1,309.6 594.1,305.9ZM615.7,314.3 619.4,312.7 623.5,311.7 626.2,308 629.1,305.7 631.8,301.8 634,303.1 636.1,304.6 637.6,305.7 635.8,306.8 634.9,308 634.7,309.1 630.1,308.5 629.3,311.4 628.4,312.5 627.3,316.1 623.4,315.8 619.5,316.9 617.6,315.3Z"/>
<path fill="#3690c0" d="M615.7,314.3 617.6,315.3 619.5,316.9 623.4,315.8 627.3,316.1 628.4,312.5 629.3,311.4 630.1,308.5 634.7,309.1 633.4,311.4 635.1,313.8 634.9,315.1 637.5,317.4 634.8,317.7 634.1,321.8 631.9,323.7 631.6,326.3 630.6,330.2 627.8,330.4 626.9,328.9 624.2,327.8 620.5,327.6 617.1,327.3 616.9,323.9 615.8,321.6 614.5,318.7 614.7,316.4ZM582.5,305.4 587.6,306.2 589.8,308.5 592.9,311.4 595,314.3 596.9,315.3 599.4,316.1 600.9,318.2 602.5,319.5 601.5,321.6 603.8,322.6 604.9,325.7 606.5,327.6 607.3,330.2 606.6,335.1 604.1,335.1 602.4,332.8 599.5,330.7 596.8,327 595.7,325.2 593.9,321.6 592.1,319.2 590.4,315.1 588.3,313.2 585.2,309.6 582.8,306.7ZM605.1,337.5 607.3,335.1 612.8,336.4 617.3,337.7 622.1,337.7 622.5,339.5 626.4,340.1 626.4,342.7 624,341.4 619.4,341.4 613.1,339.5 608,339ZM641.9,316.4 649.3,317.4 651.5,315.6 650,318.7 648.4,319.2 640.3,319.2 640.1,321.1 641.9,323.4 643.3,322.1 647.5,321.3 643.2,324.7 645.4,328.1 644.5,333.6 641.9,330.7 642.9,327.6 641.8,326.5 640.4,327.3 640.3,334.1 638.9,334.6 638,333.8 638.8,331.5 638.5,328.9 636.9,327 637.9,325.2 639.4,319.2 639.8,318.2ZM688.1,326.5 683.8,325.2 679.9,324.2 675.4,328.6 672.3,322.4 669.8,321.8 665.7,321.8 664.9,323.4 668.3,325.5 671.3,325.5 669.1,330.4 672.8,330.4 674.6,331.5 679.6,332.8 682.2,337.7 681.2,341.6 685.1,341.4 687,343.5ZM638.4,342.7 640.5,341.1 645.6,340.9 645.3,342.2 641.1,342.9ZM631.9,343.5 632.2,341.6 636.8,342.4 634.9,342.9ZM629.2,342.9 629.7,341.1 631.3,341.6 630.8,342.9ZM626,342.4 628.1,341.6 628.7,342.7ZM646.8,346.8 650.6,342.4 650.9,344 648.7,346.1ZM657.9,314 659.9,317.1 658.3,321.8 656.9,317.1ZM658.3,328.1 664.5,327.8 663.8,329.6 658.5,329.1ZM653.5,327.8 656.2,328.3 655.5,329.6 653.7,329.6ZM672.1,334.6 673.4,335.1 673,337.5 671.7,336.9Z"/>
<path fill="#74a9cf" d="M637,271.3 640.7,272 642,275.7 641.3,279 641,281.7 643.3,283 646,284.3 647,286.3 645.3,286.3 644.3,285 641.3,284.3 639.3,283.7 638.3,282.3 636.7,279.3 636.3,277 637.3,275ZM638,285 640,284.3 641,286.3 640.3,287.7 638.7,286.3ZM648,287 650,287.7 651.3,290.3 650,292.3 648.7,290.3ZM647,291 649,291.3 648.7,293.7 647,293ZM642.3,289.7 645,290 645.3,292 643.3,292.3ZM644.3,292.3 646.7,291.7 647,294.3 645.3,296.3 644.3,294.3ZM644,299.7 647.3,297.7 651.3,295.3 653,296.3 654,300.3 653.3,304.3 650,304.3 648,302.3 646,301 644.7,301.7ZM637,290.3 637.7,291.7 634,296.3 632.7,297.7 632.3,297 635.3,292.3Z"/>
<path fill="#3690c0" d="M114.6,192.5 171.2,192.5 171.7,191.5 172,193.3 177.6,194.8 181.3,195.1 184.1,194.3 189.8,197.9 190,198.9 191.4,199.9 192.8,201.9 192,206.3 190.2,208.9 188.4,210.2 189.5,211.2 195.2,209.4 198,208.1 197.9,206.6 203,206.3 204.3,205 208.6,202.7 215.2,202.7 216.7,201.9 219.1,199.4 222.1,196.6 224.7,197.4 223.5,200.9 224.4,203.2 220.8,204.8 216.8,206.3 214.6,209.1 215.7,210.9 212.2,212 206.7,213.8 206.1,214.6 203,218.4 202.1,219.5 201,221 199.2,223.4 199,228 195.8,229.6 192.7,231.4 189.7,233.3 184.8,236.9 183.1,240.3 183.8,245.8 184.1,249.9 182.7,254.1 181.1,254.4 180.2,250.7 178.9,246.8 178,242.1 175.9,241.6 171.8,240.6 168.5,240.3 164.8,241.1 165,243.9 162.1,243.9 159.1,242.6 154.6,242.6 152.3,243.4 146.4,247.6 145.5,252.1 141.3,250.7 141.2,248.1 138.4,242.1 136.1,242.1 134.1,244.2 131.5,242.9 128.7,236.9 125,236.9 124.5,238.2 118.4,238.2 111.1,235.1 106,235.1 104.6,231.7 100.4,229.6 99.8,224.4 100,221.3 99.6,216.1 99.4,214.6 103.4,207.9 108.6,199.7 110.8,194.1 113.7,194.8 115.6,192.5 114.6,192.5ZM128.2,143.4 104,164.7 107.7,164.7 107.4,167.8 113,165.9 114.4,169.3 114.6,175.4 112,178.3 109.7,177.5 109.2,173.9 107.2,170 105.1,166.4 99.6,165.4 94.7,164 86.9,166.1 81.3,167.4 86.4,163.3 78.6,167.8 71.9,171.5 62.7,173.9 51.5,177 44.1,179 49.9,176.8 55.6,175.1 66.3,171.5 70.4,168.6 61.2,168.8 63.7,165.4 60.2,164.2 66.5,159.6 69.4,157.9 76.5,157.2 79.8,154.9 70.9,154.6 70.3,152.4 79.4,150.4 79.9,151.2 85,149.5 83.2,147.7 81.3,146.2 88.9,144.8 99.5,141.5 108,139.7 113.6,140.8 118.6,141.9 124.6,142.3ZM10,266.9 12,268.9 9.6,270.5 9.2,268.4ZM5.4,263.5 6.6,264.3 5.5,264.3ZM8.2,265 10,265.8 8.8,266.1ZM2.4,261.9 3.6,261.9 2.9,262.7ZM75.8,170.5 76.5,171.2 71.5,172.9 72.1,171.5Z"/>
<path fill="#d0d1e6" d="M128.2,143.4 104,164.7 107.7,164.7 107.4,167.8 113,165.9 114.4,169.3 114.6,175.4 112,178.3 109.7,180 109.7,182.5 111,184.5 109.7,187.5 112.1,189.5 114.1,191 114.6,192.5 171.2,192.5 171.7,191.5 172,193.3 177.6,194.8 181.3,195.1 184.1,194.3 189.8,197.9 190,198.9 191.4,199.9 192.8,201.9 192,206.3 190.2,208.9 188.4,210.2 189.5,211.2 195.2,209.4 198,208.1 197.9,206.6 203,206.3 204.3,205 208.6,202.7 215.2,202.7 216.7,201.9 219.1,199.4 222.1,196.6 224.7,197.4 223.5,200.9 224.4,203.2 225.6,204.5 226.5,206.6 230.4,203.7 237.2,201.9 239.8,198.6 233.4,200.9 231,197.6 230.2,195.1 233.5,193 229.2,192 221.9,195.6 219.2,197.4 225.1,192.3 234.1,189.5 243.1,189.5 249.1,186.8 252.8,184.5 250.9,178.8 245.6,175.1 244.9,170.3 244.6,164.7 240.1,168.3 233.6,168.3 234.4,166.6 232.9,162.6 228,160 222.6,160 220.5,164.9 219,170.3 216,175.1 210.3,178.8 208.9,183.8 204.7,187 202.4,183 204.5,177.5 199.7,176.8 194.3,173.2 187.8,171.5 187.4,167.8 191.6,163.1 200,157.5 204.2,156.1 208.5,154.6 212.7,151.8 215.5,150.8 221.2,149 225.4,145.5 226.8,142.6 226.1,143.3 222.6,144.8 218.3,146.9 213.4,148.3 214.1,145.5 211.3,143.3 210.6,141.2 211.6,139.5 209.2,138.8 206.5,141.9 203.6,145.5 200.8,146.2 198.7,147.6 196.6,145.5 192.3,146.2 188.1,146.2 185.3,145.5 179.6,146.2 177.5,147.6 170.5,146.9 167.6,147.6 167.3,144.8 164.1,144.1 160.6,143.3 157.1,142.3 154.2,143 152.1,141.2 151.4,142.1 145.4,143 138.8,143.6 134.8,145ZM216.6,139.1 218.3,136.6 223.3,135.2 228.2,134.9 233.2,135.6 238.1,134.9 240.9,135.6 241.6,138.1 245.2,139.5 249.4,141.6 250.8,144.1 248.7,145.5 253.6,147.6 256.5,149.3 253.6,150.4 250.8,153.2 247.3,151.8 245.2,151.8 246.6,154.6 247.3,157.5 243,159.6 239.5,158.2 236,156.8 233.2,155.3 229.6,154.6 225.4,154.6 224.7,153.6 228.2,152.9 231.8,151.8 235.3,151.1 238.1,149 238.1,146.9 236,145.5 234.6,144.1 232.5,142.3 226.8,142.3 221.2,141.9 216.9,141.2ZM209.2,153.2 214.1,151.8 216.9,153.2 220.5,156.1 217.6,156.8 214.1,156.1 210.6,158.2 208.5,156.1ZM231.1,147.6 234.6,146.2 237.4,146.9 234.6,149 231.8,148.6ZM219.8,129.2 223.3,128.2 228.2,128.9 233.2,128.5 238.1,129.2 238.8,131.4 235.3,132.8 228.2,132.8 221.2,132.4 219.1,131.4ZM224.7,122.1 235.3,119.2 250.6,116.8 264.7,116.8 277.6,117.4 274.1,119.8 262.4,121.5 252.9,123.9 245.9,127.4 238.8,129.8 229.4,129.8 227.1,127.4 232.9,125.6 225.9,124.5ZM159.2,138.1 166.9,133.5 178.2,133.1 180.3,135.6 176,137.5 170,139 161.3,140.2ZM168.3,140 176,137.5 180.3,135.6 186.7,136.3 192.3,134.9 196.6,134.9 193.8,139.1 195.2,142.6 189.5,144.1 185.3,145.1 178.2,146.2 171.2,146.2 168.3,144.1ZM175.4,129.2 181.8,127.5 189.5,126.4 188.1,128.5 183.2,129.9 176.8,129.9ZM181.1,131.4 186.7,129.9 193.8,129.2 198,128.2 200.8,130.3 195.9,131.7 189.5,132.4 185.3,132.8ZM198.7,137 203.6,134.9 208.6,134.2 210,135.6 209.3,139.1 203.6,139.8 199.4,138.4ZM209.9,135.6 214.1,134.2 219.1,133.8 219.8,135.2 216.2,136.3 212.7,138.4 209.9,138.1ZM205.6,130.3 209.9,128.9 214.1,129.2 213.4,131.4 208.5,132.1ZM212.7,131.7 216.2,130.6 217.6,132.1 214.1,132.8ZM208,124.2 212,123.3 215,124.3 211,125.6ZM216.5,124.9 220,123.9 222.4,125.2 219,126.8ZM194,125.5 198,124.5 201,125.2 197,126.8ZM180,128 185,126.2 189.4,127 186,129 182,130ZM211.3,159.5 214.5,158.2 215.5,159 212,160.3ZM217.6,160.5 219.5,159.6 219.8,161.2 218,161.7ZM242.3,196.1 245.4,191.8 249.1,188.2 253.3,186 251.3,190 255.4,192 255.7,196.1 253.6,198.6 249.8,197.6ZM113.4,194.3 107.5,188 110.1,188.2 112.8,190ZM232.3,197.9 236.1,198.9 234.6,200.2ZM238.6,191.5 233.8,190.2 236.3,192ZM106.8,180 104.8,179.8 104.1,184.5Z"/>
<path fill="url(#hatch)" stroke="#c4c4c4" d="M282,165.9 274.5,163.3 272.6,157.7 271.8,153.3 270.6,150.4 273.5,146.3 278.2,143.2 274.1,141.5 278.5,141.3 274.2,138.3 274.3,135.2 272.7,131 268.4,129.9 260.9,130.1 255.6,128.2 254.5,126.2 268.4,122.4 273.5,120.5 285.3,119.3 298.4,118.8 308.6,117.4 322.5,116.8 332.7,118.8 334.2,120.1 346.2,120.4 338.7,122.4 334.9,126.2 334.9,128.3 330.2,128.9 332.4,131.6 329.3,133.7 327.5,137.1 323.1,137.7 327.2,141.1 324.1,142.5 320.1,145.9 312.2,146.8 307.7,146.1 302.6,150.8 297.6,151.7 291.6,154.2 290.5,157.7 285.9,161.9Z"/>
<path fill="#74a9cf" d="M145.5,252.1 141.3,250.7 141.2,248.1 138.4,242.1 136.1,242.1 134.1,244.2 131.5,242.9 128.7,236.9 125,236.9 124.5,238.2 118.4,238.2 111.1,235.1 106,235.1 106.1,237.4 106.7,240.6 108,242.9 108.8,246.8 108,248.9 109.2,250.2 111.9,251 111.4,253.8 112.5,256.2 114.8,258.5 116.4,259.3 114.9,256.7 113.8,252.3 112.5,248.9 110.9,244.5 109.7,240.3 110.4,236.9 113.4,238.5 113.2,241.6 113.9,244.2 115.6,247.1 116.7,247.1 118.6,250.2 118,252.5 120.8,254.1 124.1,260.4 125.1,261.1 125.1,264 123.7,266.6 124.9,269.2 127.9,272.1 131.7,273.9 136,276.2 138.5,277.3 142.7,278.8 147.2,277.5 149.9,279.1 152.4,281.7 152.6,279.9 154.7,277.8 157,277 155.9,274.8 156.2,273.4 160.4,273.4 160.9,273.1 162.5,271.6 162.9,271.6 163.6,272.1 165.1,266.9 166.5,263.7 163.1,263.7 158.8,265 157.9,268.2 155.6,270.5 152.3,271.6 148.5,272.3 147.3,271.3 144.6,269.5 143,266.1 142.5,262.4 143.8,257.2 145.5,252.1Z"/>
<path fill="#ece7f2" d="M152.4,281.7 152.6,279.9 154.7,277.8 157,277 155.9,274.8 156.2,273.4 160.4,273.4 159.6,278.3 161.8,278.8 160.1,280.2 159.2,281.7 158.8,282.2 158.2,282.8 157,284.1 154.5,283.5Z"/>
<path fill="#fff7fb" d="M162.5,271.6 162.4,273.9 161.9,276.8 159.6,278.3 160.4,273.4 160.9,273.1Z"/>
<path fill="#fff7fb" d="M161.8,278.8 164.8,278.6 169.2,278.1 170.5,278.6 173.3,280.7 169.1,281.2 166.2,283.3 164.4,285.1 163.2,285.9 162.2,284.8 160,283 158.8,282.2 159.2,281.7 160.1,280.2Z"/>
<path fill="#fff7fb" d="M157,284.1 158.2,282.8 158.8,282.2 160,283 162.2,284.8 160.5,285.4 157.6,284.6Z"/>
<path fill="#fff7fb" d="M173.3,280.7 172.3,283.5 171.6,287.4 171,291.4 168.8,290.8 166.5,290.8 164.8,289 163.2,286.1 163.2,285.9 164.4,285.1 166.2,283.3 169.1,281.2Z"/>
<path fill="#fff7fb" d="M171,291.4 173.5,294.7 172.4,298.9 170.9,297.9 168.7,294.7 166.1,292.7 166.5,290.8 168.8,290.8Z"/>
<path fill="#fff7fb" d="M173.5,294.7 179.3,295.5 181.6,294.7 185.2,297.1 183.8,301 182.8,298.9 180.1,296.6 178.2,298.1 178.1,300.7 175.2,298.6 172.4,298.9Z"/>
<path fill="#ece7f2" d="M171.4,262.7 174.2,260.4 177.2,259.6 181.7,259.8 186.4,261.4 188.9,263.2 192.1,265 195,266.9 191.5,267.9 187,267.9 188.5,266.1 185.7,263.5 182.8,263.2 178.5,261.9 176.4,260.6 173.2,262.7Z"/>
<path fill="#fff7fb" d="M193.8,271.8 196.3,271.6 198.6,271.3 197.8,270.3 196.6,268.7 198.1,267.9 200.5,268.4 200.1,272.1 197.1,272.6Z"/>
<path fill="#fff7fb" d="M200.5,268.4 204.6,268.7 206.5,270.3 207.9,271.3 204.5,271.8 200.6,273.9 200.1,272.1Z"/>
<path fill="#fff7fb" d="M185.2,271.8 189.6,272.9 188.4,273.1 186.2,273.1Z"/>
<path fill="url(#hatch)" stroke="#c4c4c4" d="M210.4,271.6 214,271.8 213.5,272.9 210.3,272.9Z"/>
<path fill="#fff7fb" d="M189.2,250.5 190.9,250.7 188.7,251.5ZM188.1,254.1 188.9,256.4 187.3,255.9ZM189.2,254.1 192,254.6 190.8,255.1Z"/>
<path fill="#fff7fb" d="M221,291.6 223.3,291.6 223,293.4 220.9,293.4Z"/>
<path fill="#d0d1e6" d="M185.2,297.1 186.5,297.3 189.1,295.3 189.8,292.1 192.9,290.3 194.7,290.6 197.6,288.7 199.5,287.4 200.1,288.2 199.4,289 197.7,290.8 197,290.8 195.4,294.5 195.8,296 196.8,298.9 196.5,300.5 199.7,301.5 201.8,301.5 203.3,303.9 207.2,303.3 208.1,303.9 206.9,306.2 206.8,308 207.9,310.6 206.8,312.5 208.3,316.9 202.1,315.3 202.1,316.9 203.4,318.2 201.6,318.4 201.6,320.3 202.5,321.1 203,323.7 202,331 199.9,329.6 201.7,326.8 198.4,325.7 196.4,326 194.5,324.4 193.1,323.1 191.4,321.1 189.6,319.9 188.2,319.5 184.5,318.7 181.1,316.1 181.9,313 184.4,311.2 184.9,309.3 184.8,305.2 183.8,301Z"/>
<path fill="#ece7f2" d="M199.4,289 200.1,288.2 202.1,290.1 202.7,288 203.5,289.8 206.1,291.4 211.1,292.1 215.5,292.7 219.1,292.7 220.7,294 222.8,297.6 225.1,297.3 223.6,301.8 221.7,304.2 223.2,306.2 224.8,309.3 218.3,309.3 214.2,309.1 215.5,313.2 212.2,317.4 210.1,317.9 208.3,316.9 206.8,312.5 207.9,310.6 206.8,308 206.9,306.2 208.1,303.9 207.2,303.3 203.3,303.9 201.8,301.5 199.7,301.5 196.5,300.5 196.8,298.9 195.8,296 195.4,294.5 197,290.8 197.7,290.8Z"/>
<path fill="#fff7fb" d="M225.1,297.3 228.5,300.7 231.6,304.4 229.4,308.8 232.8,314.8 228.1,316.4 225.4,315.1 225,312.2 224.8,309.3 223.2,306.2 221.7,304.2 223.6,301.8Z"/>
<path fill="#fff7fb" d="M231.6,304.4 236.4,304.1 238.7,304.6 237.5,308.8 238.6,310.4 238.1,314 232.8,314.8 229.4,308.8Z"/>
<path fill="url(#hatch)" stroke="#c4c4c4" d="M238.7,304.6 241.2,305.7 244.1,309.1 241.8,313.2 238.3,314.3 238.1,314 238.6,310.4 237.5,308.8Z"/>
<path fill="#ece7f2" d="M181.1,316.1 184.5,318.7 188.2,319.5 189.6,319.9 188.7,323.9 183.7,327.6 182.4,329.9 180.8,332.8 178,330.7 177.7,328.6 179.1,326.8 176.5,325.5 176.5,322.6 178.3,317.7Z"/>
<path fill="#d0d1e6" d="M177.7,328.6 175.7,332 176.1,335.4 179.5,338.5 183.8,346.8 188.3,355.7 191.4,359.6 197.9,363.5 200.7,366.1 203.1,367.4 204.7,365.6 205.5,362 204.7,360.7 205.7,352.6 203.6,348.3 201.3,348.4 200.9,344.5 197,344.5 194.9,344.2 193.1,338.8 194.9,334.3 197.2,333 202,331 199.9,329.6 201.7,326.8 198.4,325.7 196.4,326 194.5,324.4 193.1,323.1 191.4,321.1 189.6,319.9 188.7,323.9 183.7,327.6 182.4,329.9 180.8,332.8 178,330.7Z"/>
<path fill="#ece7f2" d="M203.6,348.3 205.7,352.6 204.7,360.7 205.5,362 204.7,365.6 206.7,369.2 207.3,372.9 208.9,375.8 210.3,379.4 211.8,378.9 214.8,377.3 217.9,379.1 221.3,377.1 222.2,374.7 222,373.2 223.2,370.8 229,370.3 231.2,371.6 232.4,367.2 231.8,365.3 230.1,363.8 225.8,362.2 224.9,359.1 225.3,357.8 223.3,354.9 220.9,353.6 218.3,352.6 215.8,352.3 213.1,350 213.1,345.3 210.1,345.5 207,347.6 206.4,348.4Z"/>
<path fill="#ece7f2" d="M203.1,367.4 204.6,375.5 204.6,381.2 205,391.7 204.7,397.9 206.3,404.2 206.7,410.9 205.4,416.4 204.6,416.6 206.3,422.1 207.9,428.6 208.3,431.6 208.6,434.5 208.3,440.9 212.2,446.2 212.3,450.5 215.7,455.2 224.3,459.2 225.3,457.5 226.9,455.7 228.5,455.2 221.3,454.5 219.8,453 219.1,451.3 215.4,447.7 216.6,446.7 215.8,442.9 216.1,441.4 214.1,434.5 213.3,432.7 210.9,426 210.5,421.1 211.6,420.3 209.6,415.3 210.6,413.5 209.8,406 207.7,401.6 208.5,398.2 209.2,391.4 210,388 212.1,382 210.3,379.4 208.9,375.8 207.3,372.9 206.7,369.2 204.7,365.6ZM228.4,456 230.8,461.7 230.3,463.2 228.4,462.5 226.2,461.7 218,456.5 223.5,457.7 225.9,456.5Z"/>
<path fill="#d0d1e6" d="M210.3,379.4 211.8,378.9 214.8,377.3 217.9,379.1 221.3,377.1 221.9,380.7 225.8,381.8 230.6,384.6 233.4,385.4 234,386.4 232.2,390.4 237.1,391.4 239,391.1 240.7,386.7 243.1,387.7 243.2,390.1 240.1,392.7 238,395 235.6,398.4 235.1,403.1 235.5,408.1 238.7,413 240.5,414.6 239.4,419.2 236.4,420.5 229.9,420.8 231.5,425.7 225.5,426.8 228.9,429.1 227.5,432.9 227.4,436.8 224.4,438.3 225.1,441.9 229.2,443.9 227.2,449.3 226,452.2 228.5,455.2 221.3,454.5 219.8,453 219.1,451.3 215.4,447.7 216.6,446.7 215.8,442.9 216.1,441.4 214.1,434.5 213.3,432.7 210.9,426 210.5,421.1 211.6,420.3 209.6,415.3 210.6,413.5 209.8,406 207.7,401.6 208.5,398.2 209.2,391.4 210,388 212.1,382 210.3,379.4ZM228.4,456 234.4,460.7 237.3,461.2 234.9,462 230.8,461.7Z"/>
<path fill="#fff7fb" d="M221.3,377.1 222.2,374.7 222,373.2 223.2,370.8 229,370.3 231.2,371.6 232,373.7 232.4,377.3 237.2,378.1 237.7,378.6 238.5,382.3 240.9,382.3 240.7,386.7 239,391.1 237.1,391.4 232.2,390.4 234,386.4 233.4,385.4 230.6,384.6 225.8,381.8 221.9,380.7Z"/>
<path fill="#fff7fb" d="M235.6,398.4 239.4,400.3 240.3,400.3 244.3,402.9 246.4,404.9 246.4,407.8 243.6,410.7 240.8,410.7 237.1,409.6 235.5,408.1 235.1,403.1Z"/>
<path fill="#74a9cf" d="M244.1,309.1 245.3,310.1 246.6,314.8 248,315.3 246.1,319.2 251,322.9 252.8,321.3 259.5,323.9 260.7,325.2 266.2,326.8 270.9,327.3 277.3,332.3 281,333 282,334.1 283,338.8 282.4,343.2 278.2,348.4 275.1,353.4 273.9,355.7 273.8,364.6 273.1,367.4 272.8,370.8 270.7,376.8 268.8,378.1 265.9,379.6 262.6,380.7 258.5,382.5 256.2,384.6 254.4,387.2 254.4,389 255.1,393 254.4,394.5 253,395.8 251.2,400.5 249.5,402.6 248.1,403.6 246.4,407.8 246.4,404.9 244.3,402.9 240.3,400.3 239.4,400.3 235.6,398.4 238,395 240.1,392.7 243.2,390.1 243.1,387.7 240.7,386.7 240.9,382.3 238.5,382.3 237.7,378.6 237.2,378.1 232.4,377.3 232,373.7 231.2,371.6 232.4,367.2 231.8,365.3 230.1,363.8 225.8,362.2 224.9,359.1 225.3,357.8 223.3,354.9 220.9,353.6 218.3,352.6 215.8,352.3 213.1,350 213.1,345.3 210.1,345.5 207,347.6 206.4,348.4 203.6,348.3 201.3,348.4 200.9,344.5 197,344.5 194.9,344.2 193.1,338.8 194.9,334.3 197.2,333 202,331 203,323.7 202.5,321.1 201.6,320.3 201.6,318.4 203.4,318.2 202.1,316.9 202.1,315.3 208.3,316.9 210.1,317.9 212.2,317.4 215.5,313.2 214.2,309.1 218.3,309.3 224.8,309.3 225,312.2 225.4,315.1 228.1,316.4 232.8,314.8 238.1,314 238.3,314.3 241.8,313.2Z"/>
<path fill="#ece7f2" d="M620.7,376.5 619.4,382.3 616.9,387.5 617.1,391.9 618.1,396.6 617.8,402.1 617.7,403.1 615.8,407 613.9,409.4 619.3,411.2 624.8,408.3 629.4,408.1 632.9,408.1 635.2,405.5 639.6,403.9 647,402.3 652.3,401.8 655.4,403.4 657.3,405.7 657.6,409.6 658.2,410.4 662.4,407.5 665.2,405.7 662.6,411.2 664.6,410.2 662.8,412.5 665.2,413.8 664,417.2 665.4,419 668.5,420 672.6,419.2 675.4,421.6 680.1,418.5 685.4,417.4 687.7,414 691.5,410.4 693.5,407.8 698,403.9 701.6,398.9 704.5,394.3 705,390.4 706.5,385.4 703.9,382.5 703.1,378.6 700.3,377.8 699.6,373.4 696.7,370.3 695.1,366.9 694.5,362.2 694.9,358.8 692.9,356.7 691.6,354.4 690,347.6 688.1,353.6 686.2,359.1 682.9,365.6 680,365.1 677.3,363.5 674.3,360.1 673.7,356.7 676.1,352.3 676.7,351.5 674.7,350.8 667,350 665.3,349.2 662.6,352.1 660.9,353.4 658.8,357.3 656.3,358.6 654.5,356.5 651.3,357 648.8,359.9 646.3,362.5 644.3,364.8 641.1,366.6 638.7,369.8 633.4,371.9 628.7,373.7 627.2,373.4 622.9,375.8ZM669.5,425.7 672.4,426.8 676.8,426.2 673.2,430.6 669.2,433.2 667.6,431.1 668.7,427Z"/>
<path fill="#fff7fb" d="M739.5,409.4 741.6,411.7 741.8,416.6 742.8,418.5 746.6,417.9 744.6,420.3 740.8,421.8 734.6,427.3 732.3,428 731.8,427.3 734.7,423.7 733.9,421.8 737.5,419 739.4,416.1 739.7,413.3ZM729.2,425.2 730.9,426.2 729.7,428.6 723.8,432.9 721.5,434 718,435.5 714.2,439.1 709.5,440.9 705.1,439.8 705.3,439.1 713.2,434.2 719.8,431.6 725.5,427.8 727.1,426.2Z"/>
<path fill="#fff7fb" d="M688.1,326.5 692,328.3 696.3,329.9 698.9,332.5 699.2,334.1 702.8,335.6 703.4,336.9 701.3,337.2 701.6,339 703.6,340.6 706.1,343.5 709.2,346.6 707.2,347.6 704.9,346.6 701,344.5 698.7,340.9 695.9,339.5 692.5,341.1 692.6,343.2 690.7,344 687,343.5ZM704.6,334.3 708,334.1 710.3,334.1 713.5,332.8 712.1,330.7 708.3,335.9 704.9,335.6ZM710.7,327 714.7,329.6 715.6,331.7 712.9,328.1ZM719.2,332.8 721.9,336.2 721.3,337.5 719.4,335.4Z"/>
<path fill="#fff7fb" d="M729.7,344 732.4,345 732.1,345.7 729.9,344.8ZM732.2,341.6 733.1,341.6 734,344.5 733.3,344.8ZM723.2,336.9 725.2,338.5 724.6,339 722.9,337.5ZM726.9,340.1 730.4,341.6 730.1,342.2 726.6,340.6ZM724,340.9 726.1,341.1 725.8,341.9 724.2,341.6Z"/>
<path fill="#fff7fb" d="M743.9,359.3 745.5,362.2 744.4,361.2ZM743.9,365.3 745.6,365.9 745.4,366.6Z"/>
<path fill="#fff7fb" d="M734.6,372.1 740.1,377.6 738.7,377.8 734.9,373.4Z"/>
<path fill="#fff7fb" d="M766.5,365.1 769.2,365.9 768,367.2 766.2,366.9ZM770.7,362.5 773.3,362.5 771.8,363.8Z"/>
<path fill="#fff7fb" d="M422.9,397.1 425.3,394.5 428.3,395.3 427.7,398.2 425.1,399.5 422.8,398.4Z"/>
<path fill="#fff7fb" d="M432.5,387 434.7,387.5 434.2,390.9 432.2,390.6Z"/>
<path fill="#fff7fb" d="M324.6,284.3 331.5,284.3 331.5,285.1 324.6,285.4Z"/>
<path fill="#fff7fb" d="M405.1,208.6 406.4,210.7 408.4,209.7 407.8,207.9 406.1,207.3Z"/>
<path fill="#fff7fb" d="M374.7,191.3 375.3,189.7 376.1,190.5 375.9,191.3Z"/>
<path fill="#fff7fb" d="M626.2,308 629.1,306.7 628.7,308.5 627.1,309.3Z"/>
<path fill="#fff7fb" d="M650.6,342.4 655.7,341.6 654,342.9 650.9,344Z"/>
<path fill="#fff7fb" d="M635.6,253.8 637,254.9 636.2,260.4 635.5,262.4 633.7,259.8 634.2,255.7Z"/>
</g>
<rect x="117.4" y="537" width="47.2" height="11.4" fill="url(#hatch)" stroke="#999" stroke-width="0.5"/>
<line x1="141" y1="534.4" x2="141" y2="537" stroke="#999" stroke-width="0.7"/>
<text x="141" y="530" text-anchor="middle">No data</text>
<rect x="184.40" y="537" width="68.54" height="11.3" fill="#fff7fb" stroke="#999" stroke-width="0.5"/>
<rect x="252.94" y="537" width="68.54" height="11.3" fill="#ece7f2" stroke="#999" stroke-width="0.5"/>
<rect x="321.48" y="537" width="68.54" height="11.3" fill="#d0d1e6" stroke="#999" stroke-width="0.5"/>
<rect x="390.02" y="537" width="68.54" height="11.3" fill="#a6bddb" stroke="#999" stroke-width="0.5"/>
<rect x="458.56" y="537" width="68.54" height="11.3" fill="#74a9cf" stroke="#999" stroke-width="0.5"/>
<rect x="527.10" y="537" width="68.54" height="11.3" fill="#3690c0" stroke="#999" stroke-width="0.5"/>
<rect x="595.64" y="537" width="68.54" height="11.3" fill="#0570b0" stroke="#999" stroke-width="0.5"/>
<rect x="664.18" y="537" width="68.54" height="11.3" fill="#034e7b" stroke="#999" stroke-width="0.5"/>
<line x1="184.40" y1="534.4" x2="184.40" y2="537" stroke="#999" stroke-width="0.7"/>
<text x="184.40" y="530" text-anchor="middle">0</text>
<line x1="252.94" y1="534.4" x2="252.94" y2="537" stroke="#999" stroke-width="0.7"/>
<text x="252.94" y="530" text-anchor="middle">100,000</text>
<line x1="321.48" y1="534.4" x2="321.48" y2="537" stroke="#999" stroke-width="0.7"/>
<text x="321.48" y="530" text-anchor="middle">250,000</text>
<line x1="390.02" y1="534.4" x2="390.02" y2="537" stroke="#999" stroke-width="0.7"/>
<text x="390.02" y="530" text-anchor="middle">500,000</text>
<line x1="458.56" y1="534.4" x2="458.56" y2="537" stroke="#999" stroke-width="0.7"/>
<text x="458.56" y="530" text-anchor="middle">1 million</text>
<line x1="527.10" y1="534.4" x2="527.10" y2="537" stroke="#999" stroke-width="0.7"/>
<text x="527.10" y="530" text-anchor="middle">2.5 million</text>
<line x1="595.64" y1="534.4" x2="595.64" y2="537" stroke="#999" stroke-width="0.7"/>
<text x="595.64" y="530" text-anchor="middle">5 million</text>
<line x1="664.18" y1="534.4" x2="664.18" y2="537" stroke="#999" stroke-width="0.7"/>
<text x="664.18" y="530" text-anchor="middle">10 million</text>
<line x1="732.72" y1="534.4" x2="732.72" y2="537" stroke="#999" stroke-width="0.7"/>
<text x="732.72" y="530" text-anchor="middle">25 million</text>
</svg>
<div class="title">Number of deaths, 2021</div>
<div class="sub">Estimated number of deaths from all causes in both sexes.</div>
<div class="logo">Our World<br>in Data</div>
<div class="src"><b>Data source:</b> World Health Organization (2024)</div>
<div class="url">OurWorldinData.org/causes-of-death | CC BY</div>
</body></html>
